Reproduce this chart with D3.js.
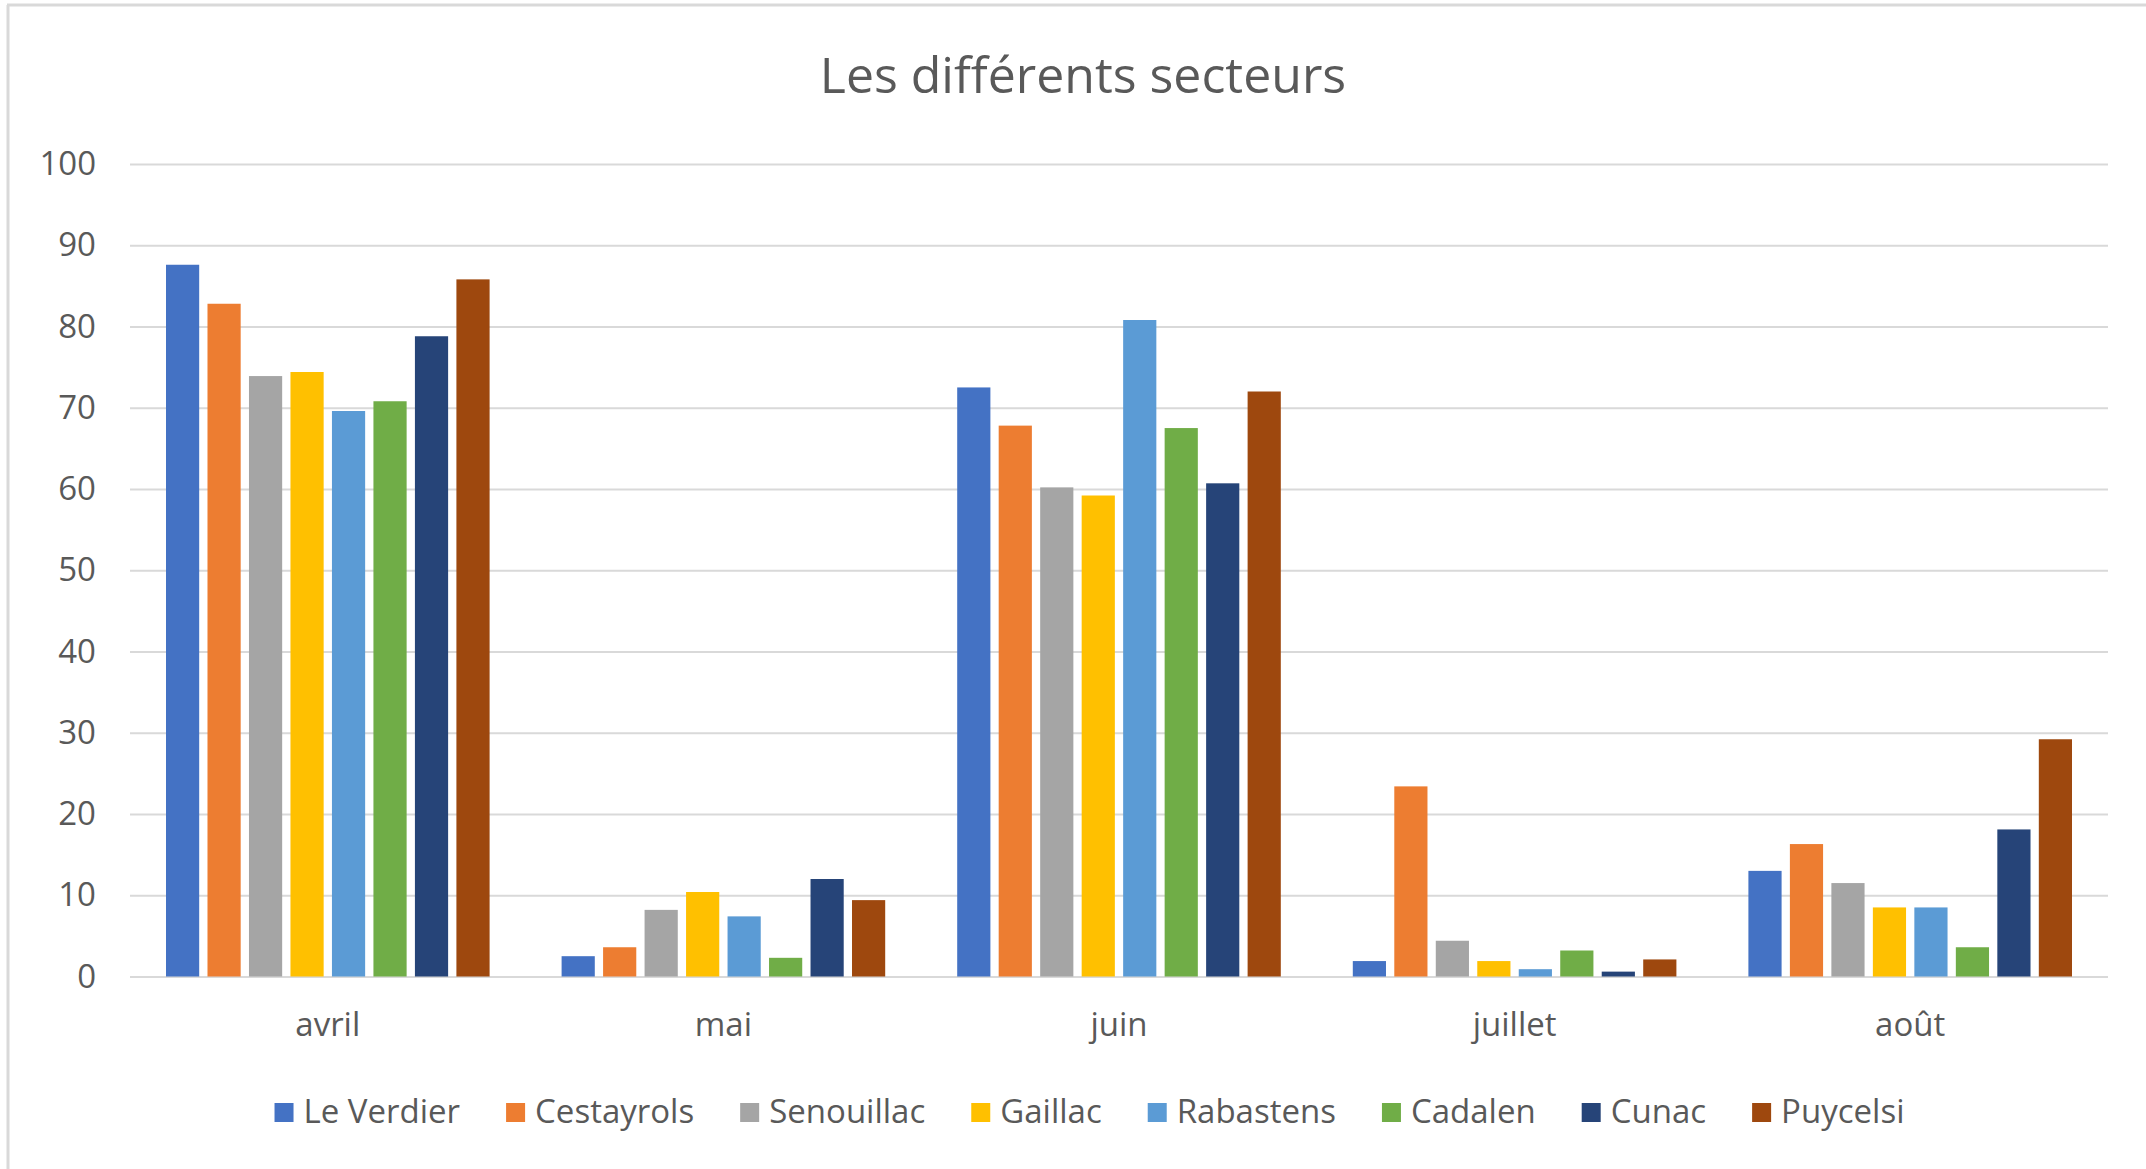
<!DOCTYPE html>
<html>
<head>
<meta charset="utf-8">
<script src="https://cdn.jsdelivr.net/npm/d3@7.9.0/dist/d3.min.js"></script>
<style>
  html, body { margin: 0; padding: 0; background: #fff; }
  svg { display: block; font-family: "Open Sans", sans-serif; }
</style>
</head>
<body>
<svg id="chart" width="2146" height="1169"></svg>
<script>
// data
const months = ['avril', 'mai', 'juin', 'juillet', 'août'];
const sectors = ['Le Verdier', 'Cestayrols', 'Senouillac', 'Gaillac', 'Rabastens', 'Cadalen', 'Cunac', 'Puycelsi'];
const colorList = ['#4472C4', '#ED7D31', '#A5A5A5', '#FFC000', '#5B9BD5', '#70AD47', '#264478', '#9E480E'];

const leVerdier  = [87.6, 2.5, 72.5, 1.9, 13.0];
const cestayrols = [82.8, 3.6, 67.8, 23.4, 16.3];
const senouillac = [73.9, 8.2, 60.2, 4.4, 11.5];
const gaillac    = [74.4, 10.4, 59.2, 1.9, 8.5];
const rabastens  = [69.6, 7.4, 80.8, 0.9, 8.5];
const cadalen    = [70.8, 2.3, 67.5, 3.2, 3.6];
const cunac      = [78.8, 12.0, 60.7, 0.6, 18.1];
const puycelsi   = [85.8, 9.4, 72.0, 2.1, 29.2];
const yTicks = [0, 10, 20, 30, 40, 50, 60, 70, 80, 90, 100];

const seriesValues = [leVerdier, cestayrols, senouillac, gaillac, rabastens, cadalen, cunac, puycelsi];

const svg = d3.select('#chart');
const textColor = '#595959';

// chart frame (only top + left edges show in the reference)
svg.append('line').attr('x1', 7).attr('x2', 2146).attr('y1', 5).attr('y2', 5)
  .attr('stroke', '#d9d9d9').attr('stroke-width', 3);
svg.append('line').attr('x1', 8).attr('x2', 8).attr('y1', 5).attr('y2', 1169)
  .attr('stroke', '#d9d9d9').attr('stroke-width', 3);

const plotLeft = 130, plotRight = 2108, plotTop = 164, plotBottom = 976.5;

const x0 = d3.scaleBand().domain(months).range([plotLeft, plotRight]);
const x1 = d3.scaleBand().domain(sectors).range([36, x0.bandwidth() - 36]).paddingInner(0.2);
const y = d3.scaleLinear().domain([0, 100]).range([plotBottom, plotTop]);
const color = d3.scaleOrdinal().domain(sectors).range(colorList);

// gridlines + y labels
const yAxis = d3.axisLeft(y).tickValues(yTicks).tickSize(-(plotRight - plotLeft)).tickPadding(34);
const yg = svg.append('g').attr('transform', `translate(${plotLeft},0)`).call(yAxis);
yg.select('.domain').remove();
yg.selectAll('line').attr('stroke', '#d9d9d9').attr('stroke-width', 2);
yg.selectAll('text').attr('fill', textColor).attr('font-size', 33)
  .attr('font-family', '"Open Sans", sans-serif');

// bars
const groups = svg.append('g').selectAll('g')
  .data(months)
  .join('g')
  .attr('transform', d => `translate(${x0(d)},0)`);

groups.selectAll('rect')
  .data((m, mi) => sectors.map((s, si) => ({ sector: s, value: seriesValues[si][mi] })))
  .join('rect')
  .attr('x', d => x1(d.sector))
  .attr('width', x1.bandwidth())
  .attr('y', d => y(d.value))
  .attr('height', d => y(0) - y(d.value))
  .attr('fill', d => color(d.sector));

// category labels
const xAxis = d3.axisBottom(x0).tickSize(0).tickPadding(36);
const xg = svg.append('g').attr('transform', `translate(0,${plotBottom})`).call(xAxis);
xg.select('.domain').remove();
xg.selectAll('text').attr('fill', textColor).attr('font-size', 33)
  .attr('font-family', '"Open Sans", sans-serif');

// title
svg.append('text')
  .attr('x', 1083).attr('y', 93)
  .attr('text-anchor', 'middle')
  .attr('fill', textColor)
  .attr('font-size', 50)
  .text('Les différents secteurs');

// legend, centred under the plot
const legend = svg.append('g');
const items = legend.selectAll('g').data(sectors).join('g');
items.append('rect').attr('width', 19).attr('height', 19).attr('y', 1103)
  .attr('fill', d => color(d));
items.append('text').attr('x', 29).attr('y', 1123)
  .attr('fill', textColor).attr('font-size', 33)
  .text(d => d);

let pos = 0;
const offsets = [];
items.each(function () {
  offsets.push(pos);
  const w = 29 + d3.select(this).select('text').node().getComputedTextLength();
  pos += w + 46;
});
const total = pos - 46;
const start = 1089.5 - total / 2;
items.attr('transform', (d, i) => `translate(${start + offsets[i]},0)`);
</script>
</body>
</html>
